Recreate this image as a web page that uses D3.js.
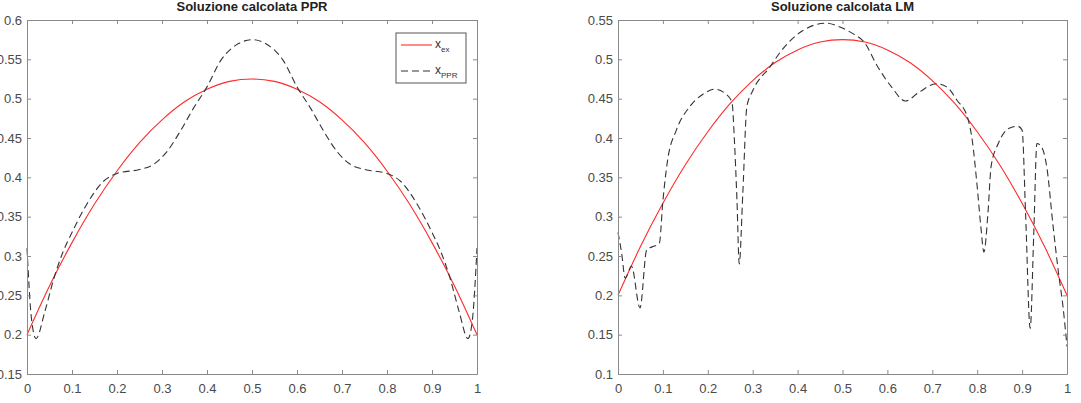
<!DOCTYPE html>
<html>
<head>
<meta charset="utf-8">
<script src="https://cdn.jsdelivr.net/npm/d3@7"></script>
<style>
  body { margin: 0; background: #fff; }
  svg { display: block; font-family: "Liberation Sans", Arial, sans-serif; }
</style>
</head>
<body>
<script>
// exact solution, read at x = 0, 0.05, ..., 1
var exX = [0, 0.05, 0.1, 0.15, 0.2, 0.25, 0.3, 0.35, 0.4, 0.45, 0.5, 0.55, 0.6, 0.65, 0.7, 0.75, 0.8, 0.85, 0.9, 0.95, 1];
var exY = [0.2, 0.262, 0.317, 0.366, 0.408, 0.444, 0.473, 0.496, 0.512, 0.522, 0.525, 0.522, 0.512, 0.496, 0.473, 0.444, 0.408, 0.366, 0.317, 0.262, 0.2];

// PPR solution
var pprX = [0, 0.01, 0.02, 0.04, 0.06, 0.08, 0.1, 0.13, 0.17, 0.2, 0.25, 0.28, 0.31, 0.34, 0.37, 0.4, 0.43, 0.47, 0.5, 0.53, 0.57, 0.6, 0.63, 0.66, 0.69, 0.72, 0.75, 0.8, 0.83, 0.87, 0.9, 0.92, 0.94, 0.96, 0.98, 0.99, 1];
var pprY = [0.31, 0.22, 0.195, 0.23, 0.272, 0.305, 0.33, 0.363, 0.395, 0.405, 0.41, 0.416, 0.432, 0.458, 0.488, 0.515, 0.548, 0.57, 0.575, 0.57, 0.548, 0.515, 0.488, 0.458, 0.432, 0.416, 0.41, 0.405, 0.395, 0.363, 0.33, 0.305, 0.272, 0.23, 0.195, 0.22, 0.31];

// LM solution
var lmX = [0, 0.008, 0.016, 0.03, 0.049, 0.064, 0.078, 0.092, 0.1, 0.11, 0.13, 0.16, 0.19, 0.216, 0.24, 0.254, 0.259, 0.265, 0.27, 0.278, 0.287, 0.3, 0.338, 0.364, 0.41, 0.464, 0.494, 0.525, 0.548, 0.579, 0.609, 0.64, 0.67, 0.709, 0.732, 0.755, 0.778, 0.789, 0.8, 0.808, 0.815, 0.824, 0.831, 0.847, 0.87, 0.89, 0.9, 0.908, 0.918, 0.926, 0.933, 0.943, 0.955, 0.969, 0.981, 0.991, 1];
var lmY = [0.28, 0.254, 0.222, 0.237, 0.184, 0.258, 0.262, 0.266, 0.32, 0.37, 0.41, 0.44, 0.456, 0.462, 0.456, 0.445, 0.40, 0.32, 0.24, 0.33, 0.44, 0.46, 0.49, 0.511, 0.536, 0.546, 0.541, 0.532, 0.522, 0.49, 0.465, 0.447, 0.458, 0.469, 0.465, 0.448, 0.427, 0.397, 0.338, 0.288, 0.255, 0.305, 0.364, 0.393, 0.412, 0.415, 0.41, 0.3, 0.158, 0.279, 0.393, 0.389, 0.363, 0.288, 0.229, 0.186, 0.135];

var xTicks = [0, 0.1, 0.2, 0.3, 0.4, 0.5, 0.6, 0.7, 0.8, 0.9, 1];
var yTicksPPR = [0.15, 0.2, 0.25, 0.3, 0.35, 0.4, 0.45, 0.5, 0.55, 0.6];
var yTicksLM = [0.1, 0.15, 0.2, 0.25, 0.3, 0.35, 0.4, 0.45, 0.5, 0.55];

var svg = d3.select("body").append("svg")
  .attr("width", 1081)
  .attr("height", 403);

function zip(xs, ys) {
  return xs.map(function (x, i) { return { x: x, y: ys[i] }; });
}

function panel(left, right, yDomain, yTicks, title, solX, solY) {
  var top = 20, bottom = 374;
  var x = d3.scaleLinear().domain([0, 1]).range([left, right]);
  var y = d3.scaleLinear().domain(yDomain).range([bottom, top]);
  var g = svg.append("g");

  var line = d3.line()
    .x(function (d) { return x(d.x); })
    .y(function (d) { return y(d.y); })
    .curve(d3.curveMonotoneX);

  g.append("path")
    .datum(zip(exX, exY))
    .attr("d", line)
    .attr("fill", "none")
    .attr("stroke", "#ff2a2a")
    .attr("stroke-width", 1.1);

  g.append("path")
    .datum(zip(solX, solY))
    .attr("d", line)
    .attr("fill", "none")
    .attr("stroke", "#333")
    .attr("stroke-width", 1.1)
    .attr("stroke-dasharray", "7,4");

  // axes, ticks inside on every side
  var axCol = "#8a8a8a";
  var bottomAx = g.append("g").attr("transform", "translate(0," + bottom + ")")
    .call(d3.axisBottom(x).tickValues(xTicks).tickSizeInner(-4).tickSizeOuter(0).tickPadding(10).tickFormat(d3.format("")));
  var leftAx = g.append("g").attr("transform", "translate(" + left + ",0)")
    .call(d3.axisLeft(y).tickValues(yTicks).tickSizeInner(-4).tickSizeOuter(0).tickPadding(5).tickFormat(d3.format("")));
  var topAx = g.append("g").attr("transform", "translate(0," + top + ")")
    .call(d3.axisTop(x).tickValues(xTicks).tickSizeInner(-4).tickSizeOuter(0).tickFormat(""));
  var rightAx = g.append("g").attr("transform", "translate(" + right + ",0)")
    .call(d3.axisRight(y).tickValues(yTicks).tickSizeInner(-4).tickSizeOuter(0).tickFormat(""));

  [bottomAx, leftAx, topAx, rightAx].forEach(function (a) {
    a.selectAll("path, line").attr("stroke", axCol);
    a.selectAll("text").attr("fill", "#4a4a4a").style("font-size", "13px")
      .style("font-family", "'Liberation Sans', Arial, sans-serif");
  });

  g.append("text")
    .attr("x", (left + right) / 2)
    .attr("y", 11)
    .attr("text-anchor", "middle")
    .style("font-size", "13px")
    .style("font-weight", "bold")
    .attr("fill", "#222")
    .text(title);

  return { x: x, y: y };
}

panel(27, 477, [0.15, 0.6], yTicksPPR, "Soluzione calcolata PPR", pprX, pprY);
panel(618, 1067, [0.1, 0.55], yTicksLM, "Soluzione calcolata LM", lmX, lmY);

// legend on the left panel
var leg = svg.append("g");
leg.append("rect")
  .attr("x", 396).attr("y", 33).attr("width", 70).attr("height", 50)
  .attr("fill", "#fff").attr("stroke", "#555").attr("stroke-width", 1);
leg.append("line").attr("x1", 401).attr("x2", 432).attr("y1", 45).attr("y2", 45)
  .attr("stroke", "#ff2a2a").attr("stroke-width", 1.1);
leg.append("line").attr("x1", 401).attr("x2", 432).attr("y1", 71).attr("y2", 71)
  .attr("stroke", "#333").attr("stroke-width", 1.1).attr("stroke-dasharray", "7,4");

var labels = [["x", "ex", 48], ["x", "PPR", 74]];
labels.forEach(function (l) {
  var t = leg.append("text").attr("x", 435).attr("y", l[2])
    .style("font-size", "12px").attr("fill", "#333");
  t.append("tspan").text(l[0]);
  t.append("tspan").attr("dy", 4).style("font-size", "8px").text(l[1]);
});
</script>
</body>
</html>
